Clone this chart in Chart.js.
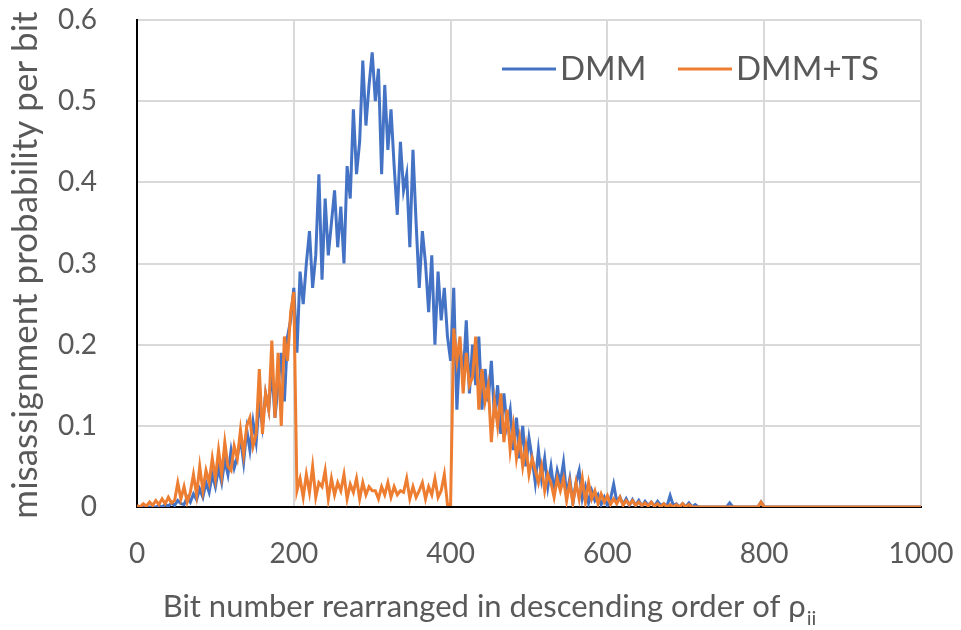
<!DOCTYPE html>
<html>
<head>
<meta charset="utf-8">
<script src="https://cdn.jsdelivr.net/npm/chart.js@4"></script>
<style>
  html, body { margin: 0; padding: 0; background: #fff; }
  #wrap { width: 961px; height: 630px; }
</style>
</head>
<body>
<div id="wrap"><canvas id="chart"></canvas></div>
<script>
// one value every 4 bits, 0..1000
const bitStep = 4;

const dmm = [
  0, 0, 0, 0, 0, 0, 0, 0.002, 0, 0.003,
  0.001, 0.005, 0.002, 0.008, 0.004, 0.003, 0.012, 0.006, 0.016, 0.009,
  0.022, 0.012, 0.03, 0.018, 0.04, 0.025, 0.048, 0.03, 0.058, 0.04,
  0.07, 0.048, 0.062, 0.085, 0.055, 0.095, 0.07, 0.105, 0.08, 0.13,
  0.1, 0.14, 0.12, 0.17, 0.11, 0.15, 0.19, 0.13, 0.21, 0.23,
  0.27, 0.19, 0.29, 0.25, 0.3, 0.34, 0.27, 0.31, 0.41, 0.28,
  0.38, 0.31, 0.35, 0.39, 0.32, 0.37, 0.3, 0.42, 0.38, 0.49,
  0.41, 0.45, 0.55, 0.47, 0.52, 0.56, 0.5, 0.54, 0.41, 0.52,
  0.44, 0.49, 0.42, 0.36, 0.45, 0.39, 0.41, 0.32, 0.44, 0.35,
  0.27, 0.34, 0.3, 0.24, 0.31, 0.2, 0.29, 0.23, 0.27, 0.21,
  0.18, 0.27, 0.12, 0.2, 0.16, 0.23, 0.14, 0.2, 0.15, 0.21,
  0.12, 0.17, 0.13, 0.18, 0.11, 0.15, 0.09, 0.14, 0.1, 0.12,
  0.07, 0.11, 0.06, 0.1, 0.05, 0.085, 0.06, 0.03, 0.07, 0.035,
  0.06, 0.025, 0.05, 0.02, 0.045, 0.03, 0.055, 0.015, 0.035, 0.005,
  0.03, 0.045, 0.01, 0.025, 0.005, 0.02, 0.008, 0.015, 0.003, 0.012,
  0.002, 0.01, 0.028, 0.006, 0.012, 0.003, 0.01, 0.002, 0.009, 0.002,
  0.008, 0.001, 0.007, 0.002, 0.006, 0.001, 0.007, 0.002, 0.004, 0.001,
  0.014, 0.002, 0.004, 0, 0.004, 0, 0.005, 0, 0.003, 0,
  0, 0, 0, 0, 0, 0, 0, 0, 0, 0.005,
  0, 0, 0, 0, 0, 0, 0, 0, 0, 0.006,
  0, 0, 0, 0, 0, 0, 0, 0, 0, 0,
  0, 0, 0, 0, 0, 0, 0, 0, 0, 0,
  0, 0, 0, 0, 0, 0, 0, 0, 0, 0,
  0, 0, 0, 0, 0, 0, 0, 0, 0, 0,
  0, 0, 0, 0, 0, 0, 0, 0, 0, 0,
  0
];

const dmmTs = [
  0.002, 0, 0.004, 0.001, 0.006, 0.002, 0.008, 0.003, 0.01, 0.004,
  0.012, 0.005, 0.008, 0.03, 0.01, 0.025, 0.006, 0.018, 0.04, 0.015,
  0.05, 0.02, 0.045, 0.03, 0.06, 0.035, 0.07, 0.04, 0.08, 0.05,
  0.045, 0.075, 0.06, 0.095, 0.065, 0.1, 0.11, 0.075, 0.09, 0.17,
  0.09, 0.14, 0.12, 0.205, 0.11, 0.19, 0.1, 0.21, 0.18, 0.24,
  0.265, 0.02, 0.035, 0.012, 0.04, 0.018, 0.05, 0.012, 0.03, 0.025,
  0.045, 0.01, 0.035, 0.015, 0.03, 0.02, 0.04, 0.01, 0.028, 0.018,
  0.035, 0.01, 0.03, 0.015, 0.025, 0.02, 0.02, 0.01, 0.025, 0.015,
  0.03, 0.012, 0.025, 0.015, 0.02, 0.018, 0.035, 0.01, 0.025, 0.012,
  0.02, 0.03, 0.01, 0.025, 0.015, 0.035, 0.012, 0.02, 0.04, 0.003,
  0.003, 0.22, 0.18, 0.21, 0.14, 0.19, 0.15, 0.16, 0.21, 0.12,
  0.17, 0.13, 0.15, 0.08, 0.13, 0.1, 0.14, 0.08, 0.12, 0.07,
  0.1, 0.06, 0.085, 0.05, 0.075, 0.04, 0.06, 0.045, 0.03, 0.05,
  0.02, 0.04, 0.03, 0.012, 0.035, 0.02, 0.035, 0.008, 0.03, 0.005,
  0.03, 0.01, 0.035, 0.006, 0.03, 0.01, 0.02, 0.004, 0.016, 0.006,
  0.014, 0.003, 0.01, 0.004, 0.012, 0.002, 0.008, 0.003, 0.008, 0.002,
  0.006, 0.002, 0.005, 0.001, 0.006, 0.001, 0.004, 0, 0.004, 0,
  0.003, 0, 0.003, 0, 0.004, 0, 0.003, 0, 0, 0,
  0, 0, 0, 0, 0, 0, 0, 0, 0, 0,
  0, 0, 0, 0, 0, 0, 0, 0, 0, 0.006,
  0, 0, 0, 0, 0, 0, 0, 0, 0, 0,
  0, 0, 0, 0, 0, 0, 0, 0, 0, 0,
  0, 0, 0, 0, 0, 0, 0, 0, 0, 0,
  0, 0, 0, 0, 0, 0, 0, 0, 0, 0,
  0, 0, 0, 0, 0, 0, 0, 0, 0, 0,
  0
];

const xTicks = [0, 200, 400, 600, 800, 1000];
const yTicks = [0, 0.1, 0.2, 0.3, 0.4, 0.5, 0.6];

const bits = dmm.map((v, i) => i * bitStep);
const toPoints = (vals) => vals.map((v, i) => ({ x: bits[i], y: v }));

const textColor = '#595959';
const fontFamily = 'Lato, "Open Sans", sans-serif';

// legend inside the plot, axis titles (x one has the rho_ii subscript)
const extras = {
  id: 'extras',
  afterDraw(chart) {
    const { ctx } = chart;
    ctx.save();
    ctx.fillStyle = textColor;

    // legend
    ctx.lineWidth = 3;
    ctx.font = '33px ' + fontFamily;
    ctx.textBaseline = 'middle';
    const items = [
      { x: 502, color: chart.data.datasets[0].borderColor, text: chart.data.datasets[0].label },
      { x: 678, color: chart.data.datasets[1].borderColor, text: chart.data.datasets[1].label },
    ];
    items.forEach((it) => {
      ctx.strokeStyle = it.color;
      ctx.beginPath();
      ctx.moveTo(it.x, 69);
      ctx.lineTo(it.x + 54, 69);
      ctx.stroke();
      ctx.fillText(it.text, it.x + 58, 69);
    });

    // x title
    const main = 'Bit number rearranged in descending order of ρ';
    const sub = 'ii';
    ctx.textBaseline = 'alphabetic';
    ctx.font = '31px ' + fontFamily;
    const w1 = ctx.measureText(main).width;
    ctx.font = '20px ' + fontFamily;
    const w2 = ctx.measureText(sub).width;
    const start = 489 - (w1 + w2) / 2;
    ctx.font = '31px ' + fontFamily;
    ctx.fillText(main, start, 617);
    ctx.font = '20px ' + fontFamily;
    ctx.fillText(sub, start + w1 + 1, 625);

    // y title
    ctx.translate(37, 265);
    ctx.rotate(-Math.PI / 2);
    ctx.textAlign = 'center';
    ctx.font = '35px ' + fontFamily;
    ctx.fillText('misassignment probability per bit', 0, 0);
    ctx.restore();
  },
};

const config = {
  type: 'line',
  data: {
    datasets: [
      {
        label: 'DMM',
        data: toPoints(dmm),
        borderColor: '#4472C4',
        backgroundColor: '#4472C4',
        borderWidth: 3,
        pointRadius: 0,
        tension: 0,
        order: 1,
      },
      {
        label: 'DMM+TS',
        data: toPoints(dmmTs),
        borderColor: '#ED7D31',
        backgroundColor: '#ED7D31',
        borderWidth: 3,
        pointRadius: 0,
        tension: 0,
        order: 0,
      },
    ],
  },
  options: {
    responsive: true,
    maintainAspectRatio: false,
    animation: false,
    layout: {
      padding: { top: 20, right: 40, bottom: 0, left: 0 },
    },
    scales: {
      x: {
        type: 'linear',
        min: 0,
        max: 1000,
        afterBuildTicks: (axis) => {
          axis.ticks = xTicks.map((v) => ({ value: v }));
        },
        afterFit: (axis) => {
          axis.height = 123;
          axis.paddingLeft = 0;
          axis.paddingRight = 0;
        },
        grid: { color: '#d9d9d9', lineWidth: 2, drawTicks: false },
        border: { color: '#000', width: 2 },
        ticks: {
          padding: 30,
          color: textColor,
          font: { family: fontFamily, size: 28 },
          maxRotation: 0,
          callback: (v) => String(v),
        },
      },
      y: {
        min: 0,
        max: 0.6,
        afterBuildTicks: (axis) => {
          axis.ticks = yTicks.map((v) => ({ value: v }));
        },
        afterFit: (axis) => {
          axis.width = 137;
          axis.paddingTop = 0;
          axis.paddingBottom = 0;
        },
        grid: { color: '#d9d9d9', lineWidth: 2, drawTicks: false },
        border: { color: '#000', width: 2 },
        ticks: {
          padding: 40,
          color: textColor,
          font: { family: fontFamily, size: 28 },
          callback: (v) => String(v),
        },
      },
    },
    plugins: {
      legend: { display: false },
      tooltip: { enabled: false },
    },
  },
  plugins: [extras],
};

new Chart(document.getElementById('chart'), config);
</script>
</body>
</html>
